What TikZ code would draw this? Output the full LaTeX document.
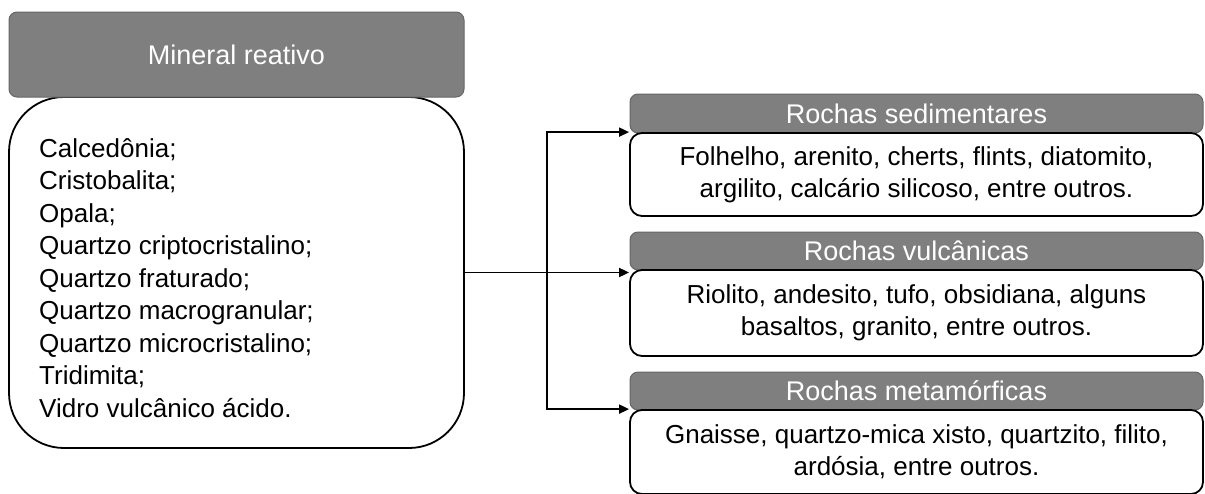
\documentclass[tikz,border=0pt]{standalone}
\usepackage{fontspec}
\setmainfont{Liberation Sans}
\usetikzlibrary{arrows.meta}

\definecolor{cabecalho}{HTML}{7F7F7F}
\definecolor{bordacab}{HTML}{666666}

\tikzset{
  cab/.style={draw=bordacab,line width=1pt,fill=cabecalho,text=white,rounded corners=8pt,
    inner sep=0pt,font=\fontsize{27}{30}\selectfont},
  caixa/.style={draw=black,line width=1.8pt,fill=white,rounded corners=12pt,inner sep=0pt,
    align=center,font=\fontsize{26}{32}\selectfont},
  seta/.style={line width=1.8pt,-{Triangle[length=10pt,width=9pt]}}
}

\begin{document}
\begin{tikzpicture}[x=1pt,y=-1pt]
\useasboundingbox (0,0) rectangle (1205,493);
\node[caixa,rounded corners=55pt,minimum width=455pt,minimum height=351pt] (corpo) at (236.5,272.5) {};
\node[cab,minimum width=455pt,minimum height=85pt] (mineral) at (236.5,54.5) {Mineral reativo};
\node[anchor=north west,align=left,inner sep=0pt,font=\fontsize{26}{32.5}\selectfont] (lista) at (39,138) {Calcedônia;\\
Cristobalita;\\
Opala;\\
Quartzo criptocristalino;\\
Quartzo fraturado;\\
Quartzo macrogranular;\\
Quartzo microcristalino;\\
Tridimita;\\
Vidro vulcânico ácido.};

\node[cab,minimum width=573pt,minimum height=39pt] (sedcab) at (916.5,113.5) {Rochas sedimentares};
\node[caixa,minimum width=573pt,minimum height=83pt] (sedbox) at (916.5,174.5) {Folhelho, arenito, cherts, flints, diatomito,\\argilito, calcário silicoso, entre outros.};
\node[cab,minimum width=573pt,minimum height=38pt] (vulccab) at (916.5,251) {Rochas vulcânicas};
\node[caixa,minimum width=573pt,minimum height=86pt] (vulcbox) at (916.5,313) {Riolito, andesito, tufo, obsidiana, alguns\\basaltos, granito, entre outros.};
\node[cab,minimum width=573pt,minimum height=38pt] (metcab) at (916.5,391) {Rochas metamórficas};
\node[caixa,minimum width=573pt,minimum height=84pt] (metbox) at (916.5,452) {Gnaisse, quartzo-mica xisto, quartzito, filito,\\ardósia, entre outros.};

\coordinate (split) at (547,272.5);
\draw[seta] (corpo.east) -- (corpo.east -| vulcbox.west);
\draw[seta] (split) |- (sedbox.north west);
\draw[seta] (split) |- (metbox.north west);
\end{tikzpicture}
\end{document}
